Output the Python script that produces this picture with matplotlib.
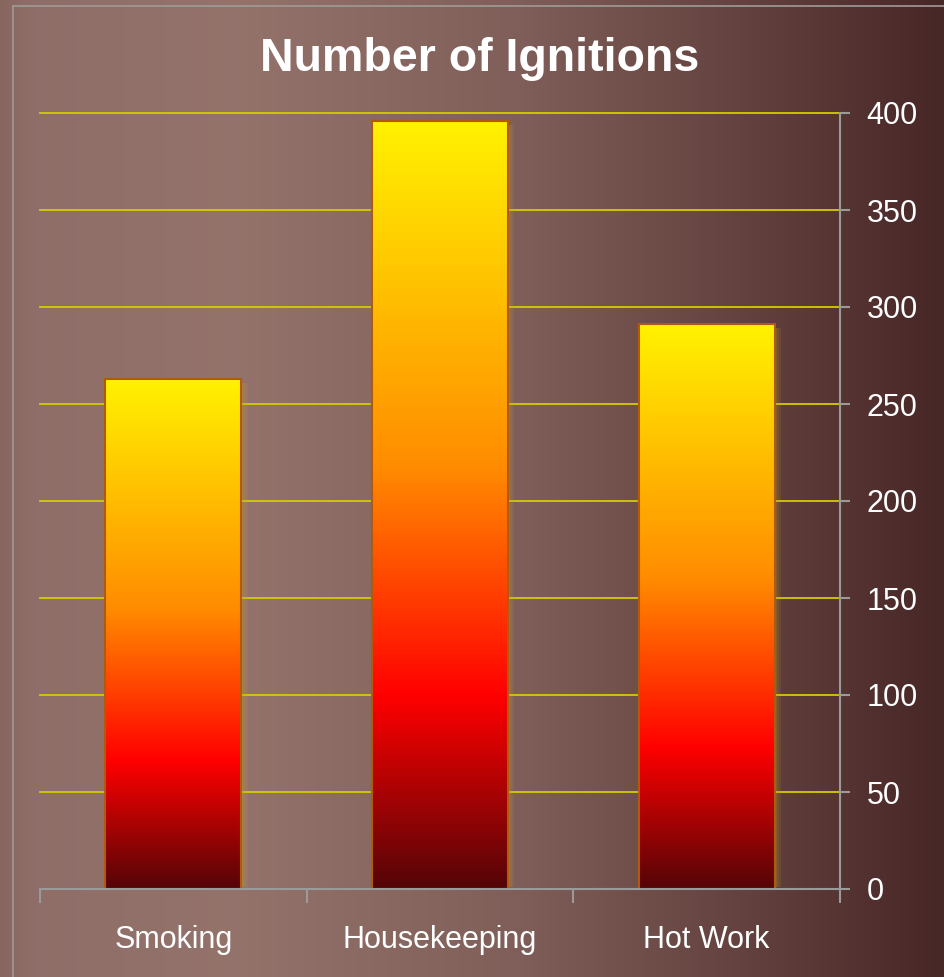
import matplotlib
matplotlib.use("Agg")
import matplotlib.pyplot as plt
import numpy as np
from matplotlib.colors import LinearSegmentedColormap
from matplotlib.patches import Rectangle

categories = ["Smoking", "Housekeeping", "Hot Work"]
ignitions = [263, 396, 291]
y_ticks = [0, 50, 100, 150, 200, 250, 300, 350, 400]

plt.rcParams['font.family'] = ['Liberation Sans', 'DejaVu Sans']

fire = LinearSegmentedColormap.from_list("fire", [
    (0.00, (0.33, 0.02, 0.03)),
    (0.25, (1.00, 0.00, 0.00)),
    (0.55, (1.00, 0.55, 0.00)),
    (1.00, (1.00, 0.95, 0.00)),
])
backdrop = LinearSegmentedColormap.from_list("backdrop", [
    (0.00, (0.53, 0.40, 0.38)),
    (0.03, (0.56, 0.43, 0.41)),
    (0.25, (0.58, 0.45, 0.42)),
    (0.55, (0.50, 0.37, 0.35)),
    (0.80, (0.38, 0.25, 0.24)),
    (1.00, (0.28, 0.15, 0.15)),
])

fig = plt.figure(figsize=(9.45, 9.77), dpi=100)

# background gradient
bg = fig.add_axes([0, 0, 1, 1])
bg.imshow(np.linspace(0, 1, 256)[None, :], cmap=backdrop, aspect='auto',
          extent=[0, 1, 0, 1])
bg.add_patch(Rectangle((13 / 945, -0.1), 1.1, 1 - 6 / 977 + 0.1, fill=False,
                       edgecolor='#a09a98', lw=1.2))
bg.set_xlim(0, 1)
bg.set_ylim(0, 1)
bg.axis('off')

ax = fig.add_axes([40 / 945, 1 - 889 / 977, 800 / 945, 776 / 977])
ax.patch.set_visible(False)
x = np.arange(len(categories))
ax.set_xlim(-0.5, len(categories) - 0.5)
ax.set_ylim(0, 400)

for yt in y_ticks[1:]:
    ax.axhline(yt, color='#d4cc00', lw=1.3, zorder=1, clip_on=False)

bars = ax.bar(x, ignitions, width=0.51, color='none', edgecolor='#b05a10',
              lw=1.5, zorder=4)
for b in bars:
    x0, w, h = b.get_x(), b.get_width(), b.get_height()
    # soft glow on the right side
    for i, a in enumerate([0.35, 0.22, 0.12]):
        ax.add_patch(Rectangle((x0 + w + i * 0.008, 1), 0.008, h - 3,
                               color='#c8a020', alpha=a, lw=0, zorder=2))
    im = ax.imshow(np.linspace(0, 1, 256)[:, None], cmap=fire, origin='lower',
                   aspect='auto', extent=[x0, x0 + w, 0, h], zorder=3)
    im.set_clip_path(b)

ax.yaxis.tick_right()
ax.set_yticks(y_ticks)
ax.set_xticks(x)
ax.set_xticklabels(categories)
ax.set_xticks([-0.5, 0.5, 1.5, 2.5], minor=True)
ax.tick_params(axis='x', which='major', length=0, pad=26, labelsize=22,
               labelcolor='white')
ax.tick_params(axis='x', which='minor', length=10, width=1.5, color='#9a9a9a',
               direction='out')
ax.tick_params(axis='y', length=7, width=1.5, color='#9a9a9a', pad=12,
               labelsize=22, labelcolor='white', direction='out')
for s in ['top', 'left']:
    ax.spines[s].set_visible(False)
for s in ['bottom', 'right']:
    ax.spines[s].set_color('#9a9a9a')
    ax.spines[s].set_linewidth(1.5)
    ax.spines[s].set_zorder(5)

fig.text(480 / 945, 1 - 59 / 977, "Number of Ignitions", color='white',
         fontsize=33.5, fontweight='bold', ha='center', va='center')

fig.savefig("out.png", dpi=100)
